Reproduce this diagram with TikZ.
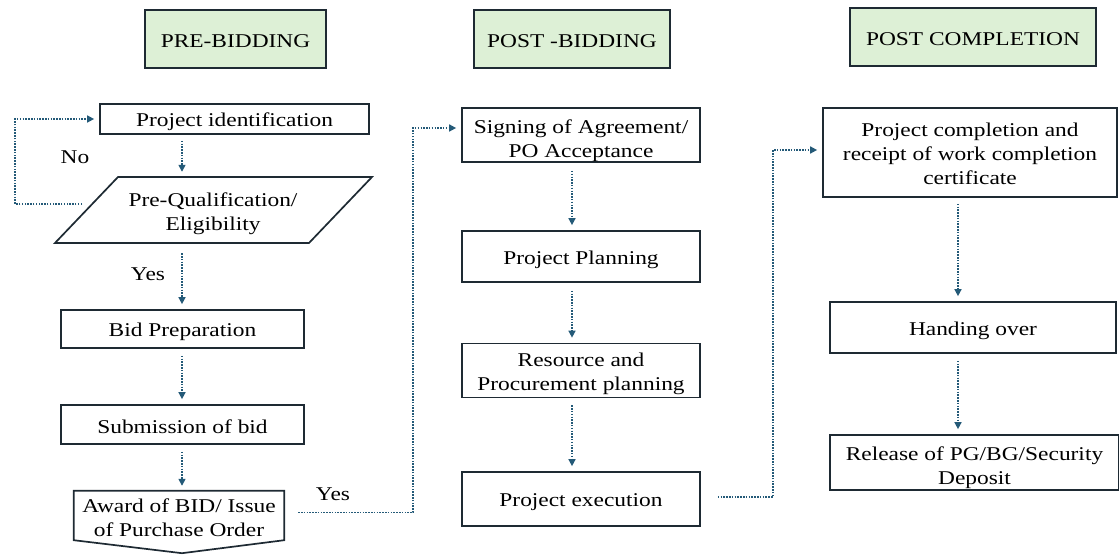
\documentclass[tikz,border=0pt]{standalone}
\usepackage{fontspec}
\setmainfont[FakeStretch=1.2]{Liberation Serif}
\usetikzlibrary{arrows.meta,calc}
\definecolor{boxc}{HTML}{1E2A33}
\definecolor{arrc}{HTML}{245A78}
\definecolor{headg}{HTML}{DDF0D6}
\newcommand{\fs}{\fontsize{19.5}{24}\selectfont}
\newcommand{\tb}[1][20pt]{\rule{0pt}{#1}}
\newcommand{\te}{\rule[-3pt]{0pt}{3pt}}
\tikzset{
  txt/.style={font=\fs, inner sep=0pt, align=center},
  one/.style={execute at begin node={\tb}, execute at end node={\te}},
  box/.style={txt, draw=boxc, line width=1.7pt},
  head/.style={box, one, fill=headg},
  lbl/.style={txt},
  flow/.style={draw=arrc, line width=1.5pt, dash pattern=on 1.5pt off 1.3pt,
    -{Triangle[length=7pt,width=7pt]}, shorten >=5pt}
}
\begin{document}
\begin{tikzpicture}[x=1pt,y=-1pt]
\useasboundingbox (0,0) rectangle (1119,556);
% headers
\node[head, minimum width=181pt, minimum height=58pt] (h1) at (235.5,39) {PRE-BIDDING};
\node[head, minimum width=196pt, minimum height=58pt] (h2) at (572,39) {POST -BIDDING};
\node[head, minimum width=246pt, minimum height=58pt] (h3) at (973,37) {POST COMPLETION};
% left column
\node[box, one, minimum width=269pt, minimum height=30pt] (pid) at (234.5,119) {Project identification};
\node[lbl, minimum width=317pt, minimum height=66pt] (pq) at (213,210) {\tb[22pt]Pre-Qualification/\\Eligibility\te};
\draw[boxc, line width=1.7pt] ($(pq.center)+(-158,33)$) -- ++(63,-66) -- ++(254,0) -- ++(-63,66) -- cycle;
\node[box, one, minimum width=243pt, minimum height=38pt] (bid) at (182.5,329) {Bid Preparation};
\node[box, one, minimum width=243pt, minimum height=39pt] (sub) at (182.5,424.5) {Submission of bid};
\node[lbl, minimum width=210pt, minimum height=49pt] (awd) at (179,515.5) {\tb[21pt]Award of BID/ Issue\\of Purchase Order\te};
\draw[boxc, line width=1.7pt] (awd.north west) -- (awd.north east) -- (awd.south east) -- ($(awd.south)+(3,13)$) -- (awd.south west) -- cycle;
% middle column
\node[box, minimum width=238pt, minimum height=54pt] (sign) at (581,135) {\tb[26pt]Signing of Agreement/\\PO Acceptance\te};
\node[box, one, minimum width=238pt, minimum height=51pt] (plan) at (581,256.5) {Project Planning};
\node[box, minimum width=238pt, minimum height=54pt] (res) at (581,370.5) {\tb Resource and\\Procurement planning\te};
\node[box, one, minimum width=238pt, minimum height=54pt] (exe) at (581,499) {Project execution};
% right column
\node[box, minimum width=294pt, minimum height=89pt] (comp) at (970,152.5) {\tb Project completion and\\receipt of work completion\\certificate\te};
\node[box, one, minimum width=286pt, minimum height=51pt] (hand) at (973,327.5) {Handing over};
\node[box, minimum width=289pt, minimum height=55pt] (rel) at (974.5,462.5) {\tb[24pt]Release of PG/BG/Security\\Deposit\te};
% labels
\node[lbl, one] (no) at (75,155) {No};
\node[lbl, one] (yes1) at (148,272) {Yes};
\node[lbl, one] (yes2) at (333,492) {Yes};
% vertical flows
\draw[flow, shorten <=6pt] (pid.south -| 182,0) -- (pq.north -| 182,0);
\draw[flow, shorten <=10pt] (pq.south -| 182,0) -- (bid.north -| 182,0);
\draw[flow, shorten <=7pt] (bid.south -| 182,0) -- (sub.north -| 182,0);
\draw[flow, shorten <=7pt] (sub.south -| 182,0) -- (awd.north -| 182,0);
\draw[flow, shorten <=8pt] (sign.south -| 572,0) -- (plan.north -| 572,0);
\draw[flow, shorten <=8pt] (plan.south -| 572,0) -- (res.north -| 572,0);
\draw[flow, shorten <=7pt] (res.south -| 572,0) -- (exe.north -| 572,0);
\draw[flow, shorten <=6pt] (comp.south -| 958,0) -- (hand.north -| 958,0);
\draw[flow, shorten <=7pt] (hand.south -| 958,0) -- (rel.north -| 958,0);
% loop and links
\coordinate (noS) at (82,204);
\coordinate (noC) at (15,204);
\draw[flow] (noS) -- (noC) |- (pid.west);
\coordinate (j1) at (413,128);
\draw[flow] ($(awd.east)+(14,-3)$) -| (j1) -- (j1 -| sign.west);
\coordinate (j2) at (773,150);
\draw[flow] ($(exe.east)+(17,-2)$) -| (j2) -- (j2 -| comp.west);
\end{tikzpicture}
\end{document}
